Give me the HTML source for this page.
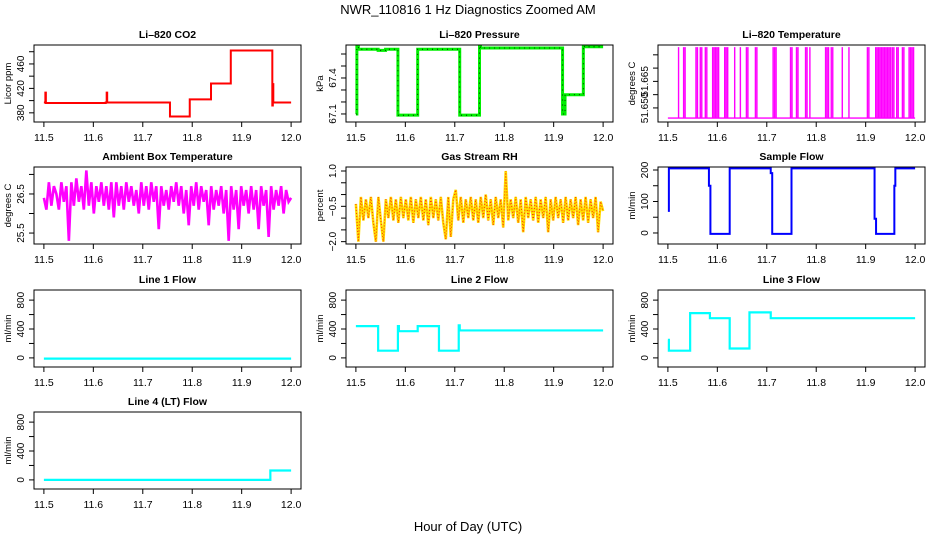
<!DOCTYPE html>
<html><head><meta charset="utf-8"><style>
body{margin:0;background:#fff;}
svg{display:block;font-family:"Liberation Sans",Arial,sans-serif;}
</style></head><body>
<svg id="c" width="936" height="540" viewBox="0 0 936 540">
<rect width="936" height="540" fill="#fff"/>
<text x="468" y="14" text-anchor="middle" font-size="13">NWR_110816  1 Hz Diagnostics Zoomed AM</text>
<text x="468" y="531" text-anchor="middle" font-size="13">Hour of Day (UTC)</text>
</svg>
<script>
// ---- data ----
const xTicks = [11.5, 11.6, 11.7, 11.8, 11.9, 12.0];
const xTickLabels = ["11.5", "11.6", "11.7", "11.8", "11.9", "12.0"];

const co2T = [11.5, 11.503, 11.504, 11.625, 11.627, 11.628, 11.755, 11.795, 11.838, 11.878, 11.962, 11.963, 11.964, 11.965, 12.0];
const co2V = [397, 413, 396, 397, 413, 397, 374, 402, 428, 482, 392, 427, 397, 397, 397];

const presT = [11.5, 11.502, 11.505, 11.545, 11.56, 11.585, 11.625, 11.71, 11.75, 11.752, 11.918, 11.923, 11.96, 11.962, 12.0];
const presV = [67.10, 67.66, 67.64, 67.63, 67.64, 67.09, 67.64, 67.09, 67.67, 67.65, 67.10, 67.26, 67.67, 67.66, 67.66];

const tempLow = 51.6462;
const tempHigh = 51.6729;
const spikeStart = [11.5216, 11.5318, 11.5568, 11.5655, 11.5757, 11.5905, 11.6149, 11.6351, 11.6466, 11.6588, 11.677, 11.7128, 11.748, 11.7601, 11.7784, 11.7872, 11.8189, 11.8304, 11.8527, 11.8662, 11.9035, 11.9203, 11.9541, 11.9628, 11.9743, 11.9878];
const spikeEnd = [11.5236, 11.5365, 11.5622, 11.5703, 11.5791, 11.6047, 11.623, 11.6378, 11.6493, 11.6635, 11.6804, 11.7189, 11.7514, 11.7635, 11.7818, 11.7899, 11.8257, 11.8358, 11.8547, 11.8682, 11.9088, 11.9507, 11.9595, 11.9676, 11.9777, 11.998];

const ambV = [26.4,26.1,26.8,26.2,26.7,26.5,26.1,26.8,26.3,26.7,25.3,26.8,26.2,26.9,26.3,26.7,26.1,27.1,26.2,26.8,26.0,26.7,26.3,26.8,26.2,26.7,26.1,26.8,25.9,26.8,26.2,26.7,26.1,26.8,26.3,26.7,26.2,26.6,26.0,26.8,26.2,26.7,26.1,26.8,26.3,26.7,25.6,26.7,26.2,26.6,26.1,26.7,26.3,26.8,26.2,26.7,26.0,26.6,25.7,26.7,26.2,26.8,26.1,26.7,26.3,26.6,25.7,26.7,26.1,26.6,26.2,26.7,26.0,26.6,25.3,26.7,26.1,26.6,25.6,26.7,26.2,26.6,26.0,26.7,26.1,26.6,25.6,26.7,26.2,26.6,25.4,26.7,26.1,26.6,26.2,26.7,26.0,26.6,26.3,26.4];

const rhV = [-0.4,-2.0,-0.1,-1.1,-0.2,-1.0,-0.1,-1.2,-2.0,-0.1,-1.1,-2.0,-0.2,-1.0,-0.1,-1.1,-0.2,-1.2,-0.1,-1.0,-0.2,-1.1,-0.1,-1.2,-0.2,-1.0,-0.1,-1.1,-0.2,-1.3,-0.1,-1.0,-0.2,-1.1,-0.1,-1.2,-1.9,-0.1,-1.8,-0.2,0.2,-1.1,-0.1,-1.2,-0.2,-1.0,-0.1,-1.1,-0.2,-1.2,-0.1,-1.0,0.0,-1.1,-0.2,-1.3,-0.1,-1.0,-0.2,-1.4,1.0,-1.1,-0.2,-1.0,-0.1,-1.2,-0.2,-1.6,-0.1,-1.0,-0.2,-1.1,-0.1,-1.2,-0.2,-1.0,-0.1,-1.6,-0.2,-1.1,-0.1,-1.0,-0.2,-1.2,-0.1,-1.1,-0.2,-1.0,-0.1,-1.3,-0.2,-1.1,-0.1,-1.2,-0.2,-1.0,-0.1,-1.6,-0.3,-0.7];

const flowT = [11.5, 11.502, 11.583, 11.586, 11.625, 11.708, 11.711, 11.75, 11.918, 11.921, 11.958, 11.96, 12.0];
const flowV = [70, 205, 150, -3, 205, 190, -3, 205, 45, -3, 150, 205, 205];

const l1T = [11.5, 12.0];
const l1V = [-10, -10];

const l2T = [11.5, 11.545, 11.585, 11.587, 11.625, 11.668, 11.708, 11.710, 12.0];
const l2V = [440, 100, 440, 370, 440, 100, 450, 380, 380];

const l3T = [11.5, 11.502, 11.545, 11.585, 11.625, 11.665, 11.708, 12.0];
const l3V = [250, 100, 620, 550, 130, 630, 550, 550];

const l4T = [11.5, 11.958, 12.0];
const l4V = [0, 130, 130];

// ---- helpers ----
const svg = document.getElementById('c');
const NS = 'http://www.w3.org/2000/svg';
function mk(tag, attrs, parent) {
  const e = document.createElementNS(NS, tag);
  for (const k in attrs) e.setAttribute(k, attrs[k]);
  (parent || svg).appendChild(e);
  return e;
}
const W = 267, H = 77;
const colX = [34, 346, 658];
const rowY = [45, 167, 290, 412];
const X0 = 11.48, X1 = 12.02;

function panel(col, row, title, ylab, y0, y1, yticks, ylabels, name) {
  const g = mk('g', {});
  
  
  const left = colX[col], top = rowY[row];
  const sx = v => left + (v - X0) / (X1 - X0) * W;
  const sy = v => top + H - (v - y0) / (y1 - y0) * H;
  const t = mk('text', {x: left + W / 2, y: top - 7, 'text-anchor': 'middle', 'font-size': 10.5, 'font-weight': 'bold'}, g);
  t.textContent = title;
  
  
  const yl = mk('text', {x: 0, y: 0, 'text-anchor': 'middle', 'font-size': 9.5, transform: `translate(${left - 23},${top + H / 2}) rotate(-90)`}, g);
  yl.textContent = ylab;
  
  
  const xa = mk('g', {stroke: '#000', 'stroke-width': 1}, g);
  
  
  mk('line', {x1: sx(xTicks[0]), x2: sx(xTicks[xTicks.length - 1]), y1: top + H, y2: top + H}, xa);
  xTicks.forEach((v, i) => {
    mk('line', {x1: sx(v), x2: sx(v), y1: top + H, y2: top + H + 5}, xa);
    const tl = mk('text', {x: sx(v), y: top + H + 19, 'text-anchor': 'middle', 'font-size': 10.5, stroke: 'none'}, xa);
    tl.textContent = xTickLabels[i];
  });
  const ya = mk('g', {stroke: '#000', 'stroke-width': 1}, g);
  
  
  mk('line', {x1: left, x2: left, y1: sy(yticks[0]), y2: sy(yticks[yticks.length - 1])}, ya);
  yticks.forEach((v, i) => {
    mk('line', {x1: left - 5, x2: left, y1: sy(v), y2: sy(v)}, ya);
    if (ylabels[i]) {
      const tl = mk('text', {x: 0, y: 0, 'text-anchor': 'middle', 'font-size': 10, stroke: 'none', transform: `translate(${left - 10},${sy(v)}) rotate(-90)`}, ya);
      tl.textContent = ylabels[i];
    }
  });
  const clip = 'clip' + name;
  const cp = mk('clipPath', {id: clip}, g);
  mk('rect', {x: left, y: top, width: W, height: H}, cp);
  const plot = mk('g', {'clip-path': `url(#${clip})`}, g);
  const box = mk('rect', {x: left, y: top, width: W, height: H, fill: 'none', stroke: '#000', 'stroke-width': 1}, g);
  
  
  return {sx, sy, plot};
}
function stepPath(p, T, V) {
  let d = `M${p.sx(T[0])},${p.sy(V[0])}`;
  for (let i = 1; i < T.length; i++) {
    d += `L${p.sx(T[i])},${p.sy(V[i - 1])}L${p.sx(T[i])},${p.sy(V[i])}`;
  }
  return d;
}
function evenPath(p, V) {
  let d = '';
  V.forEach((v, i) => {
    const t = 11.5 + 0.5 * i / (V.length - 1);
    d += (i ? 'L' : 'M') + p.sx(t) + ',' + p.sy(v);
  });
  return d;
}

let p = panel(0, 0, 'Li\u2013820 CO2', 'Licor ppm', 365, 491, [380, 400, 420, 440, 460, 480], ['380', '', '420', '', '460', ''], 'co2');
let s = mk('path', {d: stepPath(p, co2T, co2V), fill: 'none', stroke: '#ff0000', 'stroke-width': 2}, p.plot);



p = panel(1, 0, 'Li\u2013820 Pressure', 'kPa', 67.033, 67.675, [67.1, 67.2, 67.3, 67.4, 67.5, 67.6], ['67.1', '', '', '67.4', '', ''], 'pressure');
s = mk('path', {d: stepPath(p, presT, presV), fill: 'none', stroke: '#00ee00', 'stroke-width': 3}, p.plot);


s = mk('path', {d: stepPath(p, presT, presV), fill: 'none', stroke: '#000', 'stroke-width': 0.8, 'stroke-dasharray': '1 4'}, p.plot);



p = panel(2, 0, 'Li\u2013820 Temperature', 'degrees C', 51.6447, 51.6737, [51.650, 51.655, 51.660, 51.665, 51.670], ['51.650', '', '51.665', '', ''], 'li820-temp');
{
  let d = `M${p.sx(11.5)},${p.sy(tempLow)}L${p.sx(12.0)},${p.sy(tempLow)}`;
  spikeStart.forEach((a, i) => {
    const x1 = p.sx(a), x2 = p.sx(spikeEnd[i]);
    for (let x = x1; x <= x2 + 0.01; x += 1.5) d += `M${x},${p.sy(tempLow)}L${x},${p.sy(tempHigh)}`;
  });
  s = mk('path', {d, fill: 'none', stroke: '#ff00ff', 'stroke-width': 1.4}, p.plot);
  
  
}

p = panel(0, 1, 'Ambient Box Temperature', 'degrees C', 25.22, 27.19, [25.5, 26.0, 26.5, 27.0], ['25.5', '', '26.5', ''], 'ambient-temp');
s = mk('path', {d: evenPath(p, ambV), fill: 'none', stroke: '#ff00ff', 'stroke-width': 2.6}, p.plot);



p = panel(1, 1, 'Gas Stream RH', 'percent', -2.1, 1.17, [-2.0, -1.5, -1.0, -0.5, 0.0, 0.5, 1.0], ['\u22122.0', '', '', '\u22120.5', '', '', '1.0'], 'rh');
s = mk('path', {d: evenPath(p, rhV), fill: 'none', stroke: '#ffdd00', 'stroke-width': 2.6}, p.plot);


s = mk('path', {d: evenPath(p, rhV), fill: 'none', stroke: '#ff3300', 'stroke-width': 1, 'stroke-dasharray': '1 2'}, p.plot);



p = panel(2, 1, 'Sample Flow', 'ml/min', -35, 209.5, [0, 50, 100, 150, 200], ['0', '', '100', '', '200'], 'sample-flow');
s = mk('path', {d: stepPath(p, flowT, flowV), fill: 'none', stroke: '#0000ff', 'stroke-width': 2}, p.plot);



const fT = [0, 200, 400, 600, 800], fL = ['0', '', '400', '', '800'];
const lines = [[0, 2, 'Line 1 Flow', l1T, l1V, 'line1-flow'], [1, 2, 'Line 2 Flow', l2T, l2V, 'line2-flow'], [2, 2, 'Line 3 Flow', l3T, l3V, 'line3-flow'], [0, 3, 'Line 4 (LT) Flow', l4T, l4V, 'line4-flow']];
lines.forEach(L => {
  const q = panel(L[0], L[1], L[2], 'ml/min', -126, 940, fT, fL, L[5]);
  const e = mk('path', {d: stepPath(q, L[3], L[4]), fill: 'none', stroke: '#00ffff', 'stroke-width': 2.2}, q.plot);
  
  
});
</script>
</body></html>
